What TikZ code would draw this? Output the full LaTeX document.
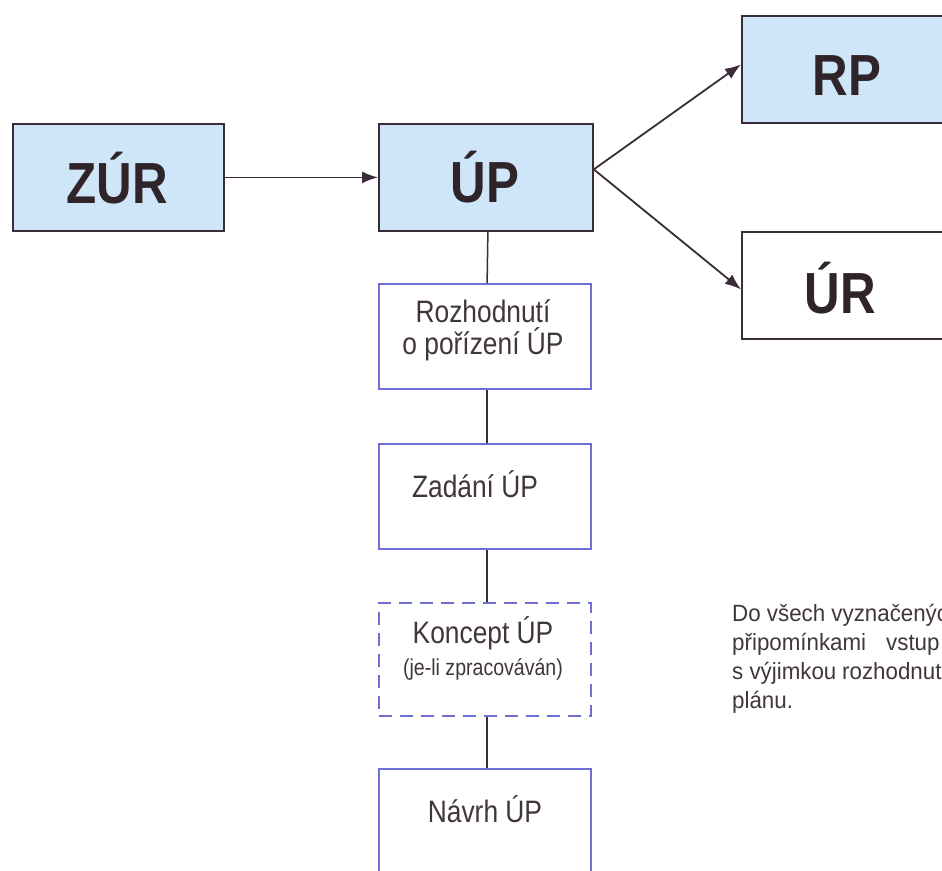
\documentclass[tikz,border=0pt]{standalone}
\usepackage{fontspec}
\setmainfont{Liberation Sans}
\newfontfamily\narrowfont[FakeStretch=0.85]{Liberation Sans}
\newfontfamily\notefont[FakeStretch=0.95]{Liberation Sans}
\usetikzlibrary{arrows.meta,calc}
\definecolor{boxblue}{HTML}{CFE6F8}
\definecolor{edgedark}{HTML}{3A2C38}
\definecolor{edgeblue}{HTML}{6E6ED6}
\definecolor{inkdark}{HTML}{2E2429}
\definecolor{inkgray}{HTML}{40363B}
\begin{document}
\begin{tikzpicture}[x=1pt,y=-1pt,
  mainbox/.style={draw=edgedark, line width=1.8pt, fill=boxblue, minimum width=211pt, minimum height=107pt, anchor=north west, inner sep=0pt},
  stepbox/.style={draw=edgeblue, line width=2.2pt, fill=white, minimum width=212pt, anchor=north west, inner sep=0pt},
  dashbox/.style={stepbox, dash pattern=on 13pt off 8pt},
  bigtext/.style={anchor=base, inner sep=0pt, text=inkdark, font=\narrowfont\bfseries\fontsize{58}{58}\selectfont},
  steptext/.style={anchor=base, inner sep=0pt, text=inkgray, font=\narrowfont\fontsize{31}{31}\selectfont},
  smalltext/.style={anchor=base, inner sep=0pt, text=inkgray, font=\narrowfont\fontsize{23}{23}\selectfont},
  notetext/.style={anchor=base west, inner sep=0pt, text=inkgray, font=\notefont\fontsize{23.5}{23.5}\selectfont},
  arr/.style={draw=edgedark, line width=1.8pt, -{Latex[length=16pt,width=12pt]}},
  link/.style={draw=edgedark, line width=1.5pt}
]
\useasboundingbox (0,0) rectangle (942,870);
\clip (0,0) rectangle (942,870);
\fill[white] (0,0) rectangle (942,870);

% main boxes
\node[mainbox, minimum width=211pt] (ZUR) at (12,123) {};
\node[mainbox, minimum width=214pt] (UP) at (378,123) {};
\node[mainbox, minimum width=214pt] (RP) at (741,15) {};
\node[mainbox, minimum width=214pt, fill=white] (UR) at (741,231) {};

% step boxes
\node[stepbox, minimum height=105pt] (ROZ) at (378,283) {};
\node[stepbox, minimum height=105pt] (ZAD) at (378,443) {};
\node[dashbox, minimum height=113pt] (KON) at (378,602) {};
\node[stepbox, minimum height=150pt] (NAV) at (378,768) {};

% texts
\node[bigtext] (tZUR) at (117,203) {ZÚR};
\node[bigtext] (tUP) at (485,202) {ÚP};
\node[bigtext] (tRP) at (847,95) {RP};
\node[bigtext] (tUR) at (840,313) {ÚR};

\node[steptext] (tROZ1) at (483,322) {Rozhodnutí};
\node[steptext] (tROZ2) at (483,354) {o pořízení ÚP};
\node[steptext] (tZAD) at (475,497) {Zadání ÚP};
\node[steptext] (tKON1) at (483,643) {Koncept ÚP};
\node[smalltext] (tKON2) at (483,675) {(je-li zpracováván)};
\node[steptext] (tNAV) at (485,822) {Návrh ÚP};

\node[notetext] (n1) at (732,621) {Do všech vyznačenýc};
\node[notetext] (n2a) at (732,650) {připomínkami};
\node[notetext] (n2b) at (886,650) {vstup};
\node[notetext] (n3a) at (732,679) {s výjimkou};
\node[notetext] (n3b) at (842,679) {rozhodnutí};
\node[notetext] (n4) at (732,708) {plánu.};

% connectors
\draw[arr] (ZUR.east) -- (UP.west);
\coordinate (fork) at ($(UP.east)+(0,-8)$);
\draw[arr] (fork) -- ($(RP.west)+(0,-5)$);
\draw[arr] (fork) -- ($(UR.west)+(0,4)$);

\draw[link] ($(UP.south)+(2,0)$) -- ($(ROZ.north)+(2,0)$);
\draw[link] ($(ROZ.south)+(2,0)$) -- ($(ZAD.north)+(2,0)$);
\draw[link] ($(ZAD.south)+(2,0)$) -- ($(KON.north)+(2,0)$);
\draw[link] ($(KON.south)+(2,0)$) -- ($(NAV.north)+(2,0)$);
\end{tikzpicture}
\end{document}
